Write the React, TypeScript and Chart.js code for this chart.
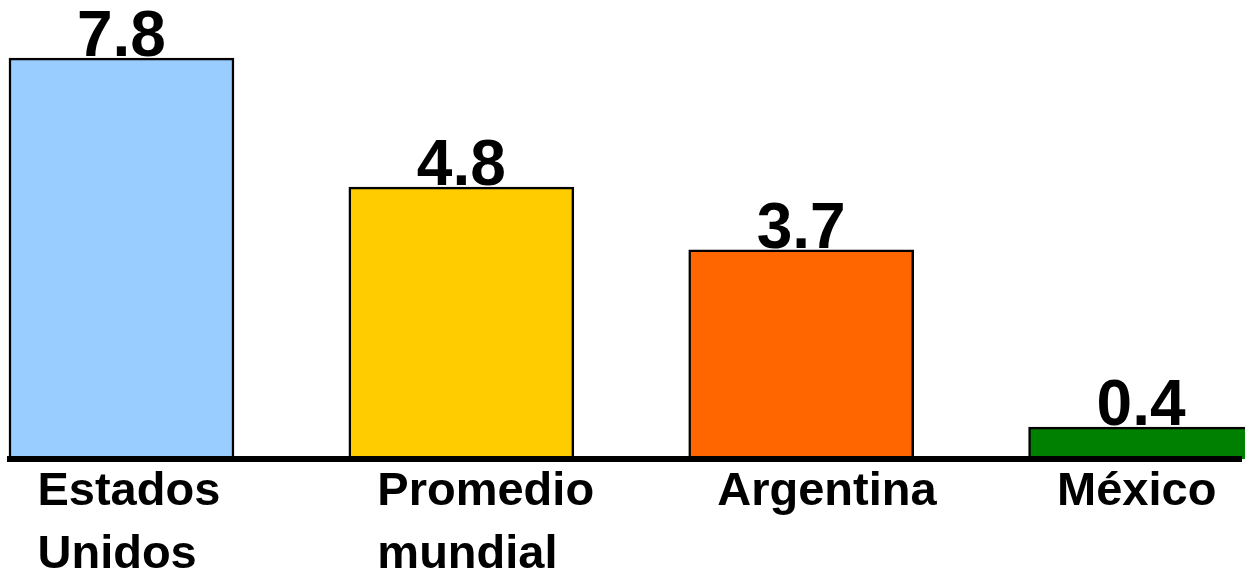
import React, { useEffect, useRef } from "react";
import { Chart, registerables } from "chart.js";

Chart.register(...registerables);

// Category names (multi-line as in the reference)
const categories: string[][] = [
  ["Estados", "Unidos"],
  ["Promedio", "mundial"],
  ["Argentina"],
  ["México"],
];
// Printed value labels
const valueLabels: string[] = ["7.8", "4.8", "3.7", "0.4"];
// Bar heights as drawn in the picture (same y units as the 7.8 bar)
const barHeights: number[] = [7.8, 5.29, 4.07, 0.62];
const barColors: string[] = ["#99CCFF", "#FFCC00", "#FF6600", "#008000"];

const FONT = "'Liberation Sans', Arial, Helvetica, sans-serif";

const valueLabelPlugin = {
  id: "valueLabels",
  afterDatasetsDraw(chart: any) {
    const ctx = chart.ctx;
    const meta = chart.getDatasetMeta(0);
    ctx.save();
    ctx.font = `bold 64px ${FONT}`;
    ctx.fillStyle = "#000000";
    ctx.textAlign = "center";
    ctx.textBaseline = "alphabetic";
    meta.data.forEach((el: any, i: number) => {
      ctx.fillText(valueLabels[i], el.x, el.y - 2);
    });
    ctx.restore();
  },
};

export default function App() {
  const canvasRef = useRef<HTMLCanvasElement | null>(null);

  useEffect(() => {
    if (!canvasRef.current) return;
    const chart = new Chart(canvasRef.current, {
      type: "bar",
      data: {
        datasets: [
          {
            data: barHeights.map((h, i) => ({ x: i, y: h })),
            backgroundColor: barColors,
            borderColor: "#000000",
            borderWidth: 2.5,
            barThickness: 225,
            clip: false as any,
          },
        ],
      },
      options: {
        responsive: false,
        animation: false,
        layout: { padding: { left: 10, right: 4, top: 0, bottom: 0 } },
        plugins: {
          legend: { display: false },
          tooltip: { enabled: false },
          title: { display: false },
        },
        scales: {
          x: {
            type: "linear",
            offset: false,
            min: -0.328,
            max: 3.294,
            grid: { display: false, drawTicks: false, offset: false },
            border: { display: true, color: "#000000", width: 6, z: 1 },
            afterBuildTicks: (scale: any) => {
              scale.ticks = categories.map((_, i) => ({ value: i }));
            },
            afterFit: (scale: any) => {
              scale.height = 112;
              scale.paddingLeft = 0;
              scale.paddingRight = 0;
            },
            ticks: {
              autoSkip: false,
              maxRotation: 0,
              minRotation: 0,
              align: "start",
              labelOffset: -84,
              padding: 2,
              color: "#000000",
              font: { family: FONT, size: 47, weight: "bold", lineHeight: 1.33 },
              callback: (value: any) => categories[Math.round(Number(value))] ?? "",
            },
          },
          y: {
            display: false,
            min: 0,
            max: 8.93,
            grid: { display: false },
          },
        },
      } as any,
      plugins: [valueLabelPlugin],
    });
    return () => chart.destroy();
  }, []);

  return (
    <div style={{ position: "fixed", left: 0, top: 0, width: 1245, height: 571, background: "#ffffff" }}>
      <canvas ref={canvasRef} width={1245} height={571} style={{ display: "block" }} />
    </div>
  );
}
